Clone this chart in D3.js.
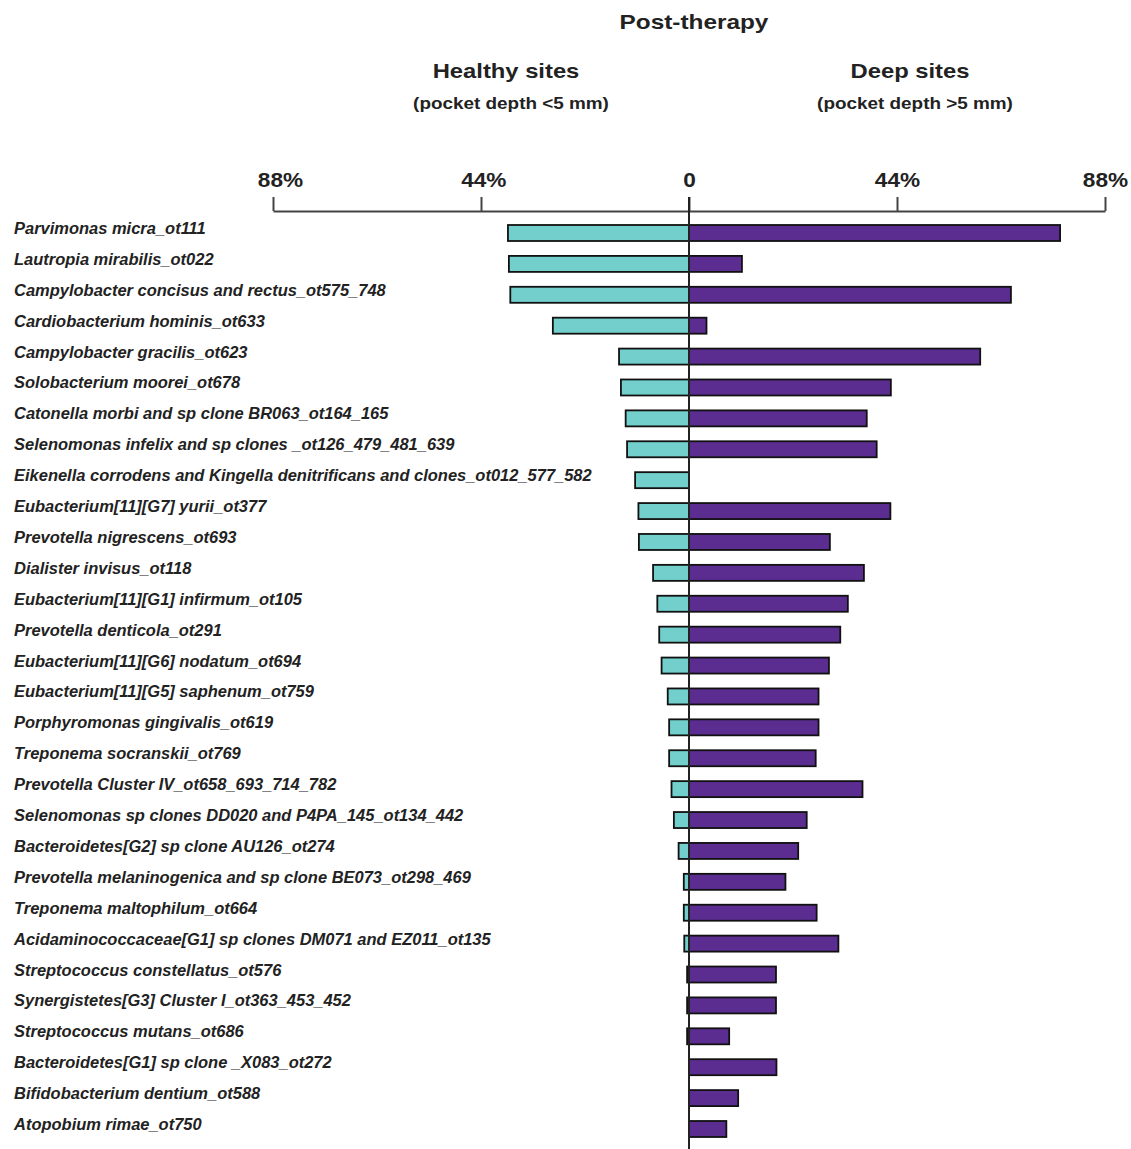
<!DOCTYPE html>
<html>
<head>
<meta charset="utf-8">
<script src="https://cdn.jsdelivr.net/npm/d3@7"></script>
<style>
  html, body { margin: 0; padding: 0; background: #fff; }
  svg { display: block; }
</style>
</head>
<body>
<svg id="chart" width="1131" height="1149"></svg>
<script>
const categories = [
  "Parvimonas micra_ot111",
  "Lautropia mirabilis_ot022",
  "Campylobacter concisus and rectus_ot575_748",
  "Cardiobacterium hominis_ot633",
  "Campylobacter gracilis_ot623",
  "Solobacterium moorei_ot678",
  "Catonella morbi and sp clone BR063_ot164_165",
  "Selenomonas infelix and sp clones _ot126_479_481_639",
  "Eikenella corrodens and Kingella denitrificans and clones_ot012_577_582",
  "Eubacterium[11][G7] yurii_ot377",
  "Prevotella nigrescens_ot693",
  "Dialister invisus_ot118",
  "Eubacterium[11][G1] infirmum_ot105",
  "Prevotella denticola_ot291",
  "Eubacterium[11][G6] nodatum_ot694",
  "Eubacterium[11][G5] saphenum_ot759",
  "Porphyromonas gingivalis_ot619",
  "Treponema socranskii_ot769",
  "Prevotella Cluster IV_ot658_693_714_782",
  "Selenomonas sp clones DD020 and P4PA_145_ot134_442",
  "Bacteroidetes[G2] sp clone AU126_ot274",
  "Prevotella melaninogenica and sp clone BE073_ot298_469",
  "Treponema maltophilum_ot664",
  "Acidaminococcaceae[G1] sp clones DM071 and EZ011_ot135",
  "Streptococcus constellatus_ot576",
  "Synergistetes[G3] Cluster I_ot363_453_452",
  "Streptococcus mutans_ot686",
  "Bacteroidetes[G1] sp clone _X083_ot272",
  "Bifidobacterium dentium_ot588",
  "Atopobium rimae_ot750"
];
// % of healthy sites (pocket depth <5 mm)
const healthySites = [38.3, 38.1, 37.8, 28.8, 14.8, 14.4, 13.4, 13.1, 11.4, 10.7,
                      10.6, 7.6, 6.7, 6.3, 5.8, 4.5, 4.2, 4.2, 3.7, 3.2,
                      2.2, 1.1, 1.1, 1.0, 0.4, 0.4, 0.4, 0, 0, 0];
// % of deep sites (pocket depth >5 mm)
const deepSites = [78.5, 11.2, 68.1, 3.7, 61.6, 42.7, 37.6, 39.7, 0, 42.6,
                   29.8, 37.0, 33.6, 32.0, 29.6, 27.4, 27.4, 26.8, 36.7, 24.9,
                   23.1, 20.4, 27.0, 31.6, 18.4, 18.4, 8.5, 18.5, 10.4, 7.9];
const tickValues = [-88, -44, 0, 44, 88];
const tickLabels = ["88%", "44%", "0", "44%", "88%"];
const mainTitle = "Post-therapy";
const leftTitle = "Healthy sites";
const leftSubtitle = "(pocket depth <5 mm)";
const rightTitle = "Deep sites";
const rightSubtitle = "(pocket depth >5 mm)";

const FONT = "'Liberation Sans', Arial, Helvetica, sans-serif";
const STRETCH = 1.16;
const LABEL_STRETCH = 1.03;
const TEXT_COLOR = "#222";
const TEAL = "#72cfcb";
const PURPLE = "#5c2d91";

const svg = d3.select("#chart");

const x = d3.scaleLinear().domain([-88, 88]).range([273, 1105]);
const y = d3.scalePoint().domain(categories).range([233, 1129]);
const barH = 16;

// Titles
function stretchedText(g, tx, ty, txt, size, anchor) {
  g.append("text")
    .attr("transform", `translate(${tx},${ty}) scale(${STRETCH},1)`)
    .attr("text-anchor", anchor)
    .attr("font-family", FONT)
    .attr("font-weight", "bold")
    .attr("font-size", size)
    .attr("fill", TEXT_COLOR)
    .text(txt);
}
stretchedText(svg, 694, 29, mainTitle, 21, "middle");
stretchedText(svg, 506, 78, leftTitle, 20.5, "middle");
stretchedText(svg, 511, 109, leftSubtitle, 16.3, "middle");
stretchedText(svg, 910, 78, rightTitle, 20.5, "middle");
stretchedText(svg, 915, 109, rightSubtitle, 16.3, "middle");

// Axis
const axis = d3.axisTop(x)
  .tickValues(tickValues)
  .tickFormat((d, i) => tickLabels[i])
  .tickSize(14)
  .tickSizeOuter(0)
  .tickPadding(10);
const axisG = svg.append("g")
  .attr("transform", "translate(0,211)")
  .call(axis);
axisG.select(".domain").attr("stroke", "#444").attr("stroke-width", 2);
axisG.selectAll(".tick line").attr("stroke", "#444").attr("stroke-width", 2);
axisG.selectAll(".tick text")
  .attr("font-family", FONT)
  .attr("font-weight", "bold")
  .attr("font-size", 19.5)
  .attr("fill", TEXT_COLOR)
  .attr("dx", (d, i) => i === 0 ? 6 : (i === 1 ? 2 : 0))
  .attr("transform", `scale(${STRETCH},1)`);

// Category labels
svg.append("g").selectAll("text")
  .data(categories)
  .join("text")
  .attr("transform", d => `translate(14,${y(d) + 1}) scale(${LABEL_STRETCH},1)`)
  .attr("font-family", FONT)
  .attr("font-weight", "bold")
  .attr("font-style", "italic")
  .attr("font-size", 16)
  .attr("fill", TEXT_COLOR)
  .text(d => d);

// Bars
const rows = categories.map((c, i) => ({ c, h: healthySites[i], d: deepSites[i] }));

svg.append("g").selectAll("rect")
  .data(rows.filter(r => r.h > 0))
  .join("rect")
  .attr("x", r => x(-r.h))
  .attr("y", r => y(r.c) - barH / 2)
  .attr("width", r => x(0) - x(-r.h))
  .attr("height", barH)
  .attr("fill", TEAL)
  .attr("stroke", "#111")
  .attr("stroke-width", 1.8);

svg.append("g").selectAll("rect")
  .data(rows.filter(r => r.d > 0))
  .join("rect")
  .attr("x", x(0))
  .attr("y", r => y(r.c) - barH / 2)
  .attr("width", r => x(r.d) - x(0))
  .attr("height", barH)
  .attr("fill", PURPLE)
  .attr("stroke", "#111")
  .attr("stroke-width", 1.8);

// Center line
svg.append("line")
  .attr("x1", x(0)).attr("x2", x(0))
  .attr("y1", 197).attr("y2", 1149)
  .attr("stroke", "#222")
  .attr("stroke-width", 2);
</script>
</body>
</html>
